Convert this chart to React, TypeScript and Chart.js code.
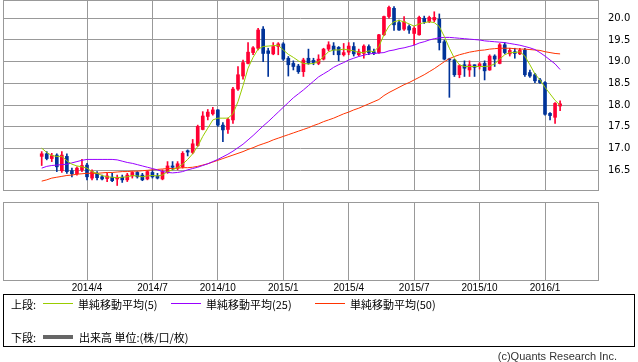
import React, { useEffect, useRef } from "react";
import { Chart, registerables } from "chart.js";

Chart.register(...registerables);

// Weekly candles (index 0 .. 103)
const opens = [
  16.82, 16.88, 16.77, 16.85, 16.49, 16.82, 16.49, 16.42, 16.51, 16.62,
  16.32, 16.43, 16.35, 16.31, 16.34, 16.30, 16.34, 16.28, 16.37, 16.45,
  16.39, 16.30, 16.45, 16.37, 16.30, 16.45, 16.60, 16.55, 16.58, 16.95,
  16.91, 17.07, 17.44, 17.74, 17.80, 17.89, 17.54, 17.44, 17.66, 18.37,
  18.67, 18.96, 19.21, 19.31, 19.75, 19.25, 19.18, 19.35, 19.41, 19.08,
  18.96, 18.90, 18.77, 19.08, 19.03, 18.96, 19.06, 19.29, 19.36, 19.33,
  19.16, 19.22, 19.35, 19.16, 19.19, 19.35, 19.23, 19.21, 19.62, 20.04,
  20.23, 19.90, 19.75, 19.81, 19.65, 19.62, 20.00, 19.92, 19.96, 19.98,
  19.46, 19.06, 19.04, 18.70, 18.93, 18.81, 18.93, 18.89, 18.96, 18.81,
  19.13, 18.96, 19.39, 19.18, 19.23, 19.18, 19.27, 18.75, 18.70, 18.58,
  18.52, 17.81, 17.72, 17.98,
];
const highs = [
  16.93, 16.93, 16.89, 16.88, 16.93, 16.88, 16.55, 16.58, 16.75, 16.66,
  16.51, 16.47, 16.39, 16.43, 16.43, 16.39, 16.39, 16.43, 16.47, 16.47,
  16.43, 16.49, 16.51, 16.43, 16.51, 16.70, 16.70, 16.70, 16.93, 16.97,
  17.21, 17.54, 17.85, 17.90, 17.95, 17.90, 17.60, 17.70, 18.41, 18.89,
  19.04, 19.44, 19.35, 19.77, 19.81, 19.31, 19.44, 19.44, 19.44, 19.12,
  19.02, 18.94, 19.08, 19.29, 19.08, 19.16, 19.31, 19.46, 19.44, 19.35,
  19.42, 19.44, 19.44, 19.29, 19.39, 19.39, 19.29, 19.63, 20.05, 20.28,
  20.27, 19.96, 20.04, 19.85, 19.81, 20.05, 20.05, 20.05, 20.15, 20.10,
  19.50, 19.08, 19.06, 18.93, 19.02, 19.02, 18.93, 18.98, 19.02, 19.16,
  19.16, 19.42, 19.44, 19.31, 19.31, 19.31, 19.31, 18.81, 18.73, 18.62,
  18.54, 17.83, 18.06, 18.10,
];
const lows = [
  16.61, 16.74, 16.70, 16.47, 16.45, 16.43, 16.35, 16.39, 16.47, 16.28,
  16.28, 16.28, 16.28, 16.24, 16.24, 16.15, 16.22, 16.24, 16.32, 16.32,
  16.26, 16.28, 16.32, 16.30, 16.28, 16.43, 16.51, 16.51, 16.55, 16.83,
  16.88, 17.05, 17.43, 17.66, 17.77, 17.51, 17.16, 17.35, 17.58, 18.34,
  18.60, 18.95, 19.16, 19.27, 19.00, 18.66, 19.16, 19.16, 19.03, 18.67,
  18.81, 18.73, 18.66, 18.94, 18.93, 18.93, 19.04, 19.25, 19.16, 19.02,
  19.13, 19.16, 19.13, 19.13, 19.08, 19.16, 19.16, 19.19, 19.60, 20.00,
  19.72, 19.72, 19.72, 19.65, 19.39, 19.61, 19.88, 19.90, 19.92, 19.27,
  19.04, 18.18, 18.66, 18.63, 18.66, 18.66, 18.66, 18.83, 18.58, 18.80,
  18.89, 18.95, 19.18, 19.13, 19.08, 19.16, 18.66, 18.64, 18.52, 18.50,
  17.77, 17.66, 17.58, 17.87,
];
const closes = [
  16.88, 16.77, 16.84, 16.58, 16.85, 16.47, 16.42, 16.55, 16.61, 16.35,
  16.47, 16.33, 16.30, 16.37, 16.26, 16.34, 16.28, 16.39, 16.45, 16.35,
  16.28, 16.47, 16.35, 16.32, 16.47, 16.60, 16.57, 16.65, 16.89, 16.92,
  17.11, 17.51, 17.75, 17.84, 17.89, 17.54, 17.43, 17.67, 18.37, 18.70,
  18.98, 19.22, 19.32, 19.73, 19.19, 19.19, 19.35, 19.41, 19.06, 18.93,
  18.89, 18.77, 19.04, 18.96, 18.98, 19.06, 19.29, 19.39, 19.27, 19.16,
  19.21, 19.36, 19.18, 19.23, 19.36, 19.21, 19.19, 19.62, 20.04, 20.25,
  19.85, 19.73, 19.92, 19.73, 19.77, 20.02, 19.92, 20.02, 20.02, 19.44,
  19.06, 19.04, 18.70, 18.91, 18.85, 18.93, 18.87, 18.95, 18.79, 19.13,
  19.06, 19.39, 19.21, 19.26, 19.19, 19.26, 18.70, 18.67, 18.56, 18.52,
  17.79, 17.76, 18.04, 18.03,
];

// Moving averages
const ma5 = [
  17.01, 16.91, 16.84, 16.82, 16.82, 16.72, 16.64, 16.60, 16.58, 16.55,
  16.47, 16.43, 16.38, 16.35, 16.34, 16.33, 16.34, 16.35, 16.38, 16.37,
  16.35, 16.37, 16.38, 16.37, 16.39, 16.47, 16.51, 16.56, 16.64, 16.75,
  16.88, 17.05, 17.28, 17.47, 17.66, 17.70, 17.70, 17.70, 17.80, 18.08,
  18.45, 18.85, 19.10, 19.29, 19.35, 19.36, 19.37, 19.38, 19.27, 19.17,
  19.10, 19.02, 18.96, 18.95, 18.96, 19.00, 19.12, 19.23, 19.27, 19.27,
  19.29, 19.27, 19.25, 19.21, 19.21, 19.25, 19.23, 19.35, 19.62, 19.82,
  19.92, 19.95, 19.92, 19.87, 19.82, 19.87, 19.90, 19.92, 19.90, 19.81,
  19.58, 19.31, 19.08, 18.93, 18.89, 18.89, 18.89, 18.89, 18.89, 18.90,
  18.95, 19.06, 19.16, 19.21, 19.21, 19.23, 19.13, 18.93, 18.72, 18.58,
  18.41, 18.26, 18.11, 18.00,
];
const ma25 = [
  16.55, 16.59, 16.61, 16.62, 16.63, 16.64, 16.67, 16.70, 16.73, 16.75,
  16.75, 16.75, 16.75, 16.75, 16.75, 16.74, 16.71, 16.68, 16.66, 16.63,
  16.60, 16.57, 16.54, 16.51, 16.47, 16.45, 16.44, 16.45, 16.47, 16.51,
  16.54, 16.57, 16.61, 16.65, 16.70, 16.75, 16.81, 16.87, 16.94, 17.02,
  17.10, 17.20, 17.30, 17.41, 17.52, 17.62, 17.73, 17.84, 17.95, 18.06,
  18.17, 18.26, 18.35, 18.45, 18.55, 18.65, 18.72, 18.79, 18.87, 18.93,
  18.98, 19.04, 19.08, 19.12, 19.15, 19.18, 19.19, 19.20, 19.21, 19.25,
  19.27, 19.30, 19.32, 19.35, 19.38, 19.43, 19.46, 19.50, 19.53, 19.55,
  19.56, 19.56, 19.55, 19.54, 19.53, 19.52, 19.51, 19.50, 19.48, 19.47,
  19.46, 19.45, 19.44, 19.42, 19.40, 19.38, 19.35, 19.32, 19.28, 19.21,
  19.13, 19.04, 18.95, 18.82,
];
const ma50 = [
  16.25, 16.28, 16.32, 16.34, 16.36, 16.38, 16.39, 16.41, 16.42, 16.43,
  16.43, 16.43, 16.44, 16.45, 16.45, 16.46, 16.47, 16.47, 16.48, 16.48,
  16.49, 16.50, 16.51, 16.52, 16.53, 16.54, 16.54, 16.55, 16.56, 16.56,
  16.57, 16.59, 16.62, 16.65, 16.69, 16.73, 16.77, 16.81, 16.85, 16.89,
  16.93, 16.98, 17.02, 17.07, 17.11, 17.15, 17.20, 17.24, 17.28, 17.32,
  17.36, 17.40, 17.44, 17.48, 17.53, 17.57, 17.62, 17.66, 17.70, 17.75,
  17.80, 17.84, 17.89, 17.93, 17.98, 18.03, 18.08, 18.13, 18.22, 18.29,
  18.35, 18.41, 18.47, 18.52, 18.58, 18.64, 18.70, 18.77, 18.84, 18.92,
  19.00, 19.07, 19.12, 19.16, 19.19, 19.22, 19.24, 19.26, 19.27, 19.29,
  19.30, 19.31, 19.31, 19.31, 19.30, 19.29, 19.29, 19.28, 19.27, 19.26,
  19.23, 19.21, 19.19, 19.18,
];

// Quarter gridlines: candle index and label
const tickIndex = [9, 22, 35, 48, 61, 74, 87, 100];
const tickLabels = ["2014/4", "2014/7", "2014/10", "2015/1", "2015/4", "2015/7", "2015/10", "2016/1"];
const priceTicks = [16.5, 17.0, 17.5, 18.0, 18.5, 19.0, 19.5, 20.0];

const UP = "#ff0033";
const DOWN = "#003399";
const GRID = "#999999";
const X_MIN = -7.69;
const X_MAX = 110.53;

const framePlugin = {
  id: "frame",
  afterDatasetsDraw(chart: any) {
    const { ctx, chartArea } = chart;
    const { left, top, right, bottom } = chartArea;
    ctx.save();
    ctx.strokeStyle = GRID;
    ctx.lineWidth = 1;
    ctx.strokeRect(left + 0.5, top + 0.5, right - left, bottom - top);
    ctx.restore();
  },
};

export default function App() {
  const topRef = useRef<HTMLCanvasElement | null>(null);
  const botRef = useRef<HTMLCanvasElement | null>(null);

  useEffect(() => {
    const colors = opens.map((o, i) => (closes[i] >= o ? UP : DOWN));
    const top = new Chart(topRef.current as HTMLCanvasElement, {
      type: "bar",
      data: {
        datasets: [
          {
            type: "line",
            data: ma5.map((v, i) => ({ x: i, y: v })),
            borderColor: "#99cc00",
            borderWidth: 1,
            pointRadius: 0,
            tension: 0,
            order: 0,
          } as any,
          {
            type: "line",
            data: ma25.map((v, i) => ({ x: i, y: v })),
            borderColor: "#9900ff",
            borderWidth: 1,
            pointRadius: 0,
            tension: 0,
            order: 0,
          } as any,
          {
            type: "line",
            data: ma50.map((v, i) => ({ x: i, y: v })),
            borderColor: "#ff3300",
            borderWidth: 1,
            pointRadius: 0,
            tension: 0,
            order: 0,
          } as any,
          {
            type: "bar",
            data: opens.map((o, i) => ({ x: i, y: [o, closes[i]] })),
            backgroundColor: colors,
            barThickness: 3,
            minBarLength: 1,
            grouped: false,
            order: 1,
          } as any,
          {
            type: "bar",
            data: lows.map((l, i) => ({ x: i, y: [l, highs[i]] })),
            backgroundColor: colors,
            barThickness: 1,
            grouped: false,
            order: 2,
          } as any,
        ],
      },
      options: {
        animation: false,
        responsive: false,
        maintainAspectRatio: false,
        layout: { padding: { left: 3, right: 0, top: 0, bottom: 2 } },
        plugins: { legend: { display: false }, tooltip: { enabled: false } },
        scales: {
          x: {
            type: "linear",
            min: X_MIN,
            max: X_MAX,
            offset: false,
            grid: { color: GRID, drawTicks: false, offset: false },
            border: { display: false },
            ticks: { display: false },
            afterBuildTicks: (s: any) => {
              s.ticks = tickIndex.map((v) => ({ value: v }));
            },
            afterFit: (s: any) => {
              s.height = 0;
              s.paddingLeft = 0;
              s.paddingRight = 0;
            },
          },
          y: {
            position: "right",
            min: 16.046,
            max: 20.421,
            grid: { color: GRID, drawTicks: false },
            border: { display: false },
            ticks: {
              padding: 10,
              color: "#000",
              font: { family: "DejaVu Sans", size: 10 },
              callback: (v: any) => Number(v).toFixed(1),
            },
            afterBuildTicks: (s: any) => {
              s.ticks = priceTicks.map((v) => ({ value: v }));
            },
            afterFit: (s: any) => {
              s.width = 40;
              s.paddingTop = 0;
              s.paddingBottom = 0;
            },
          },
        },
      } as any,
      plugins: [framePlugin],
    });

    const bot = new Chart(botRef.current as HTMLCanvasElement, {
      type: "line",
      data: { datasets: [] },
      options: {
        animation: false,
        responsive: false,
        maintainAspectRatio: false,
        layout: { padding: { left: 3, right: 40, top: 6, bottom: 0 } },
        plugins: { legend: { display: false }, tooltip: { enabled: false } },
        scales: {
          x: {
            type: "linear",
            min: X_MIN,
            max: X_MAX,
            offset: false,
            grid: { color: GRID, drawTicks: false, offset: false },
            border: { display: false },
            ticks: {
              padding: 2,
              color: "#000",
              maxRotation: 0,
              autoSkip: false,
              font: { family: "Liberation Sans", size: 10 },
              callback: (v: any) => {
                const k = tickIndex.indexOf(Number(v));
                return k >= 0 ? tickLabels[k] : "";
              },
            },
            afterBuildTicks: (s: any) => {
              s.ticks = tickIndex.map((v) => ({ value: v }));
            },
            afterFit: (s: any) => {
              s.height = 16;
              s.paddingLeft = 0;
              s.paddingRight = 0;
            },
          },
          y: { display: false, min: 0, max: 1 },
        },
      } as any,
      plugins: [framePlugin],
    });

    return () => {
      top.destroy();
      bot.destroy();
    };
  }, []);

  const row = (center: number) => center - 6.5;
  const txt: React.CSSProperties = {
    position: "absolute",
    fontSize: 11,
    lineHeight: "13px",
    whiteSpace: "nowrap",
    fontFamily: '"Noto Sans CJK JP", sans-serif',
    color: "#000",
  };
  const line = (left: number, topY: number, color: string, h = 1): React.CSSProperties => ({
    position: "absolute",
    left,
    top: topY,
    width: 30,
    height: h,
    background: color,
  });

  return (
    <div style={{ position: "absolute", left: 0, top: 0, width: 638, height: 362, background: "#fff", overflow: "hidden" }}>
      <canvas ref={topRef} width={638} height={192} style={{ position: "absolute", left: 0, top: 0, width: 638, height: 192 }} />
      <canvas ref={botRef} width={638} height={100} style={{ position: "absolute", left: 0, top: 196, width: 638, height: 100 }} />
      <div style={{ position: "absolute", left: 3, top: 294, width: 632, height: 53, border: "1px solid #000", boxSizing: "border-box" }} />
      <span style={{ ...txt, left: 11, top: row(304) }}>上段:</span>
      <div style={line(43, 303, "#99cc00")} />
      <span style={{ ...txt, left: 78, top: row(304) }}>単純移動平均(5)</span>
      <div style={line(171, 303, "#9900ff")} />
      <span style={{ ...txt, left: 206, top: row(304) }}>単純移動平均(25)</span>
      <div style={line(315, 303, "#ff3300")} />
      <span style={{ ...txt, left: 350, top: row(304) }}>単純移動平均(50)</span>
      <span style={{ ...txt, left: 11, top: row(337) }}>下段:</span>
      <div style={line(43, 335, "#666666", 4)} />
      <span style={{ ...txt, left: 79, top: row(337) }}>出来高 単位:(株/口/枚)</span>
      <span style={{ ...txt, right: 21, top: 350, fontFamily: '"Liberation Sans", sans-serif', color: "#333" }}>(c)Quants Research Inc.</span>
    </div>
  );
}
